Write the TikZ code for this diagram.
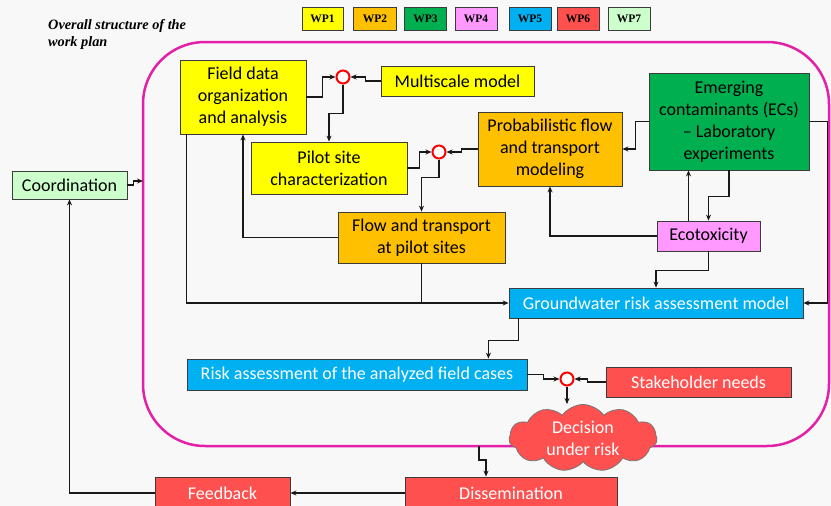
\documentclass[tikz,border=0pt]{standalone}
\usepackage{fontspec}
\setmainfont{Carlito}
\newfontfamily\titlefont{Liberation Serif}
\usetikzlibrary{shapes.symbols,arrows.meta,calc}
\definecolor{wpyellow}{RGB}{255,255,0}
\definecolor{wporange}{RGB}{255,192,0}
\definecolor{wpgreen}{RGB}{0,176,80}
\definecolor{wppink}{RGB}{255,153,255}
\definecolor{wpblue}{RGB}{0,176,240}
\definecolor{wpred}{RGB}{255,80,80}
\definecolor{wplight}{RGB}{204,255,204}
\definecolor{frame}{RGB}{228,32,168}
\definecolor{bg}{RGB}{248,248,248}
\definecolor{edge}{RGB}{60,60,60}
\tikzset{
  box/.style={draw=edge, line width=0.8pt, align=center, inner sep=0pt,
    font=\fontsize{18}{22}\selectfont},
  wpbox/.style={draw=edge, line width=0.8pt, inner sep=0pt, minimum height=23,
    font=\titlefont\bfseries\fontsize{11.5}{13}\selectfont},
  junction/.style={circle, draw=red, line width=2pt, fill=white, minimum size=13, inner sep=0pt},
  arr/.style={line width=1.1pt, draw=black!90, -{Stealth[length=6pt,width=5pt]}},
  ln/.style={line width=1.1pt, draw=black!90},
}
\begin{document}
\begin{tikzpicture}[x=1pt,y=-1pt]
\useasboundingbox (0,0) rectangle (831,506);
\fill[bg] (0,0) rectangle (831,506);

% title
\node[anchor=north west, align=left, inner sep=0pt,
  font=\titlefont\bfseries\itshape\fontsize{14.3}{17}\selectfont] (title) at (48,19)
  {Overall structure of the\\work plan};

% legend
\node[wpbox, fill=wpyellow, minimum width=41] (wp1) at (322.5,19) {WP1};
\node[wpbox, fill=wporange, minimum width=43] (wp2) at (375,19) {WP2};
\node[wpbox, fill=wpgreen, minimum width=42] (wp3) at (425.5,19) {WP3};
\node[wpbox, fill=wppink, minimum width=42] (wp4) at (476,19) {WP4};
\node[wpbox, fill=wpblue, minimum width=42] (wp5) at (530,19) {WP5};
\node[wpbox, fill=wpred, minimum width=42] (wp6) at (578,19) {WP6};
\node[wpbox, fill=wplight, minimum width=42] (wp7) at (629,19) {WP7};

% frame
\draw[frame, line width=2.5pt, rounded corners=62pt] (143,42) rectangle (829,446);
\coordinate (fl) at (143,181);
\coordinate (fb) at (479,446);

% nodes
\node[box, fill=wplight, minimum width=115, minimum height=28] (co) at (69.5,185) {Coordination};
\node[box, fill=wpyellow, minimum width=126, minimum height=74] (fd) at (243,97) {Field data\\organization\\and analysis};
\node[box, fill=wpyellow, minimum width=153, minimum height=30] (ms) at (457.5,81) {Multiscale model};
\node[box, fill=wpyellow, minimum width=156, minimum height=52] (ps) at (329,168) {Pilot site\\characterization};
\node[box, fill=wporange, minimum width=144, minimum height=74] (pf) at (550,149) {Probabilistic flow\\and transport\\modeling};
\node[box, fill=wpgreen, minimum width=160, minimum height=97] (ec) at (729,121.5) {Emerging\\contaminants (ECs)\\– Laboratory\\experiments};
\node[box, fill=wporange, minimum width=167, minimum height=51] (ft) at (421.5,237.5) {Flow and transport\\at pilot sites};
\node[box, fill=wppink, minimum width=103, minimum height=30] (eco) at (708.5,236) {Ecotoxicity};
\node[box, fill=wpblue, text=white, minimum width=294, minimum height=30] (gw) at (656,303) {Groundwater risk assessment model};
\node[box, fill=wpblue, text=white, minimum width=340, minimum height=31] (rk) at (357,374.5) {Risk assessment of the analyzed field cases};
\node[box, fill=wpred, text=white, minimum width=185, minimum height=30] (sh) at (698.5,382) {Stakeholder needs};
\node[cloud, cloud puffs=11, cloud puff arc=110, cloud ignores aspect, draw=edge!70, line width=0.8pt,
  fill=wpred, text=white, align=center, inner sep=0pt, minimum width=148, minimum height=67,
  font=\fontsize{18}{22}\selectfont] (dr) at (583,438) {Decision\\under risk};
\node[box, fill=wpred, text=white, minimum width=212, minimum height=32] (ds) at (511,493) {Dissemination};
\node[box, fill=wpred, text=white, minimum width=135, minimum height=32] (fbk) at (222.5,493) {Feedback};

\node[junction] (c1) at (343,77) {};
\node[junction] (c2) at (439,152) {};
\node[junction] (c3) at (567,379) {};

% connectors
\draw[arr] (fd.east) -- ++(16,0) |- (c1.west);
\draw[arr] (ms.west) -- ++(-15,0) |- (c1.east);
\draw[arr] (c1.south) -- ++(0,29) -| (ps.north);
\draw[arr] (ps.east) -- ++(12,0) |- (c2.west);
\draw[arr] (pf.west) -- ++(-16,0) |- (c2.east);
\draw[arr] (c2.south) -- ++(0,18) -| (ft.north);
\draw[arr] (ft.west) -| (fd.south);
\draw[arr] (ec.west) -- ++(-13,0) |- (pf.east);
\draw[arr] (ec.east) -- ++(18,0) |- (gw.east);
\draw[arr] ([xshift=-20pt]eco.north) -- ([xshift=-20pt]eco.north |- ec.south);
\draw[arr] (ec.south) -- ++(0,26) -| (eco.north);
\draw[arr] (eco.south) -- ++(0,19) -| (gw.north);
\draw[arr] (eco.west) -| (pf.south);
\draw[arr] ([xshift=7pt]fd.south west) |- (gw.west);
\draw[ln] (ft.south) -- (ft.south |- gw.west);
\draw[arr] ([xshift=10pt]gw.south west) -- ++(0,22) -| ([xshift=-39pt]rk.north east);
\draw[arr] (rk.east) -- ++(16,0) |- (c3.west);
\draw[arr] (sh.west) -- ++(-18,0) |- (c3.east);
\draw[arr] (c3.south) -- (c3.south |- dr.north);
\draw[arr] (fb) -- ++(0,14) -| ([xshift=-25pt]ds.north);
\draw[arr] (ds.west) -- (fbk.east);
\draw[arr] (fbk.west) -| (co.south);
\draw[arr] (co.east) -- ++(6,0) |- (fl);
\end{tikzpicture}
\end{document}
